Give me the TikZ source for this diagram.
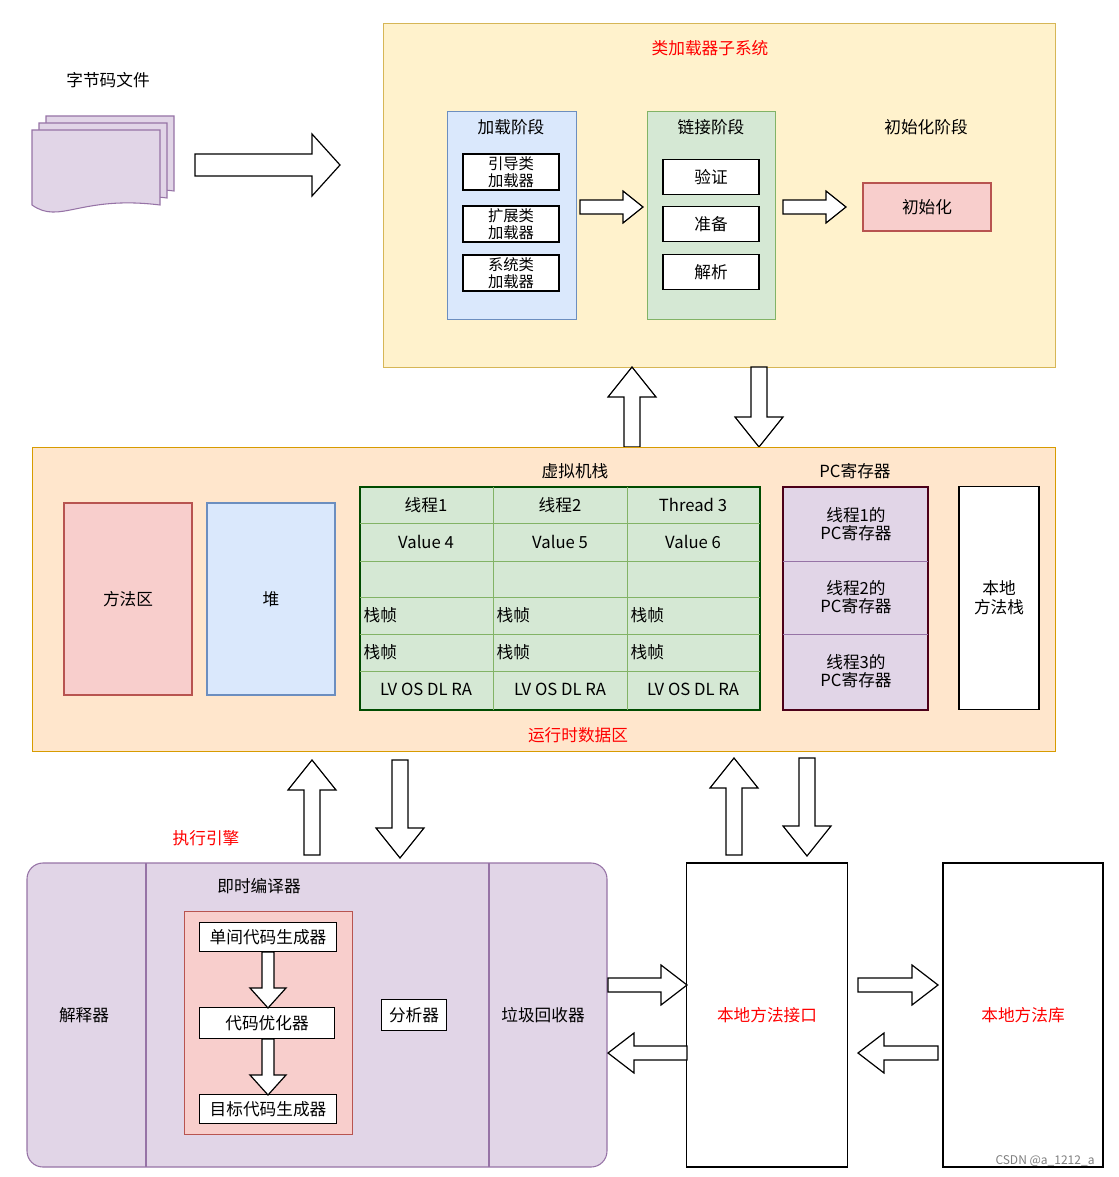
\documentclass[tikz,border=0pt]{standalone}
\usepackage{fontspec}
\setmainfont{Noto Sans CJK SC}
\begin{document}
\begin{tikzpicture}[x=0.75pt,y=-0.75pt,
  every node/.style={font=\fontsize{12.5}{14}\selectfont, align=center, inner sep=1pt},
  box/.style={draw, line width=0.8pt},
  ylw/.style={box, fill={rgb,255:red,255;green,242;blue,204}, draw={rgb,255:red,214;green,182;blue,86}},
  blu/.style={box, fill={rgb,255:red,218;green,232;blue,252}, draw={rgb,255:red,108;green,142;blue,191}},
  grn/.style={box, fill={rgb,255:red,213;green,232;blue,212}, draw={rgb,255:red,130;green,179;blue,102}},
  red/.style={box, fill={rgb,255:red,248;green,206;blue,204}, draw={rgb,255:red,184;green,84;blue,80}},
  org/.style={box, fill={rgb,255:red,255;green,230;blue,204}, draw={rgb,255:red,215;green,155;blue,0}},
  pur/.style={box, fill={rgb,255:red,225;green,213;blue,231}, draw={rgb,255:red,150;green,115;blue,166}},
  wht/.style={box, fill=white, draw=black},
  rtxt/.style={text=red}
]
\newcommand\harrow[7]{% x y angle length shaft headwidth headlen
  \begin{scope}[shift={(#1,#2)},rotate=#3]
  \draw[fill=white, line width=0.9pt] (0,-#5/2) -- (#4-#7,-#5/2) -- (#4-#7,-#6/2) -- (#4,0) -- (#4-#7,#6/2) -- (#4-#7,#5/2) -- (0,#5/2) -- cycle;
  \end{scope}}
\useasboundingbox (0,0) rectangle (1118,1177);
% bytecode
\node (bc) at (108,80) {字节码文件};
\foreach \d in {14,7,0}{
 \draw[pur] (32+\d,130-\d) -- (32+\d,205-\d) .. controls (60+\d,225-\d) and (80+\d,195-\d) .. (160+\d,205-\d) -- (160+\d,130-\d) -- cycle;}
\harrow{195}{165}{0}{145}{22}{62}{28}
% class loader
\node[ylw, minimum width=672*0.75pt, minimum height=344*0.75pt, anchor=north west] (cl) at (383,23) {};
\node[rtxt] at (710,48) {类加载器子系统};
\node[blu, minimum width=129*0.75pt, minimum height=208*0.75pt, anchor=north west] (ld) at (447,111) {};
\node at (511,127) {加载阶段};
\begin{scope}[every node/.style={font=\fontsize{11.5}{12.5}\selectfont, align=center, inner sep=0pt, wht, minimum width=96*0.75pt, minimum height=36*0.75pt}]
\node (l1) at (511,172) {引导类\\加载器};
\node (l2) at (511,224) {扩展类\\加载器};
\node (l3) at (511,273) {系统类\\加载器};
\end{scope}
\harrow{580}{207}{0}{63}{14}{32}{20}
\node[grn, minimum width=128*0.75pt, minimum height=208*0.75pt, anchor=north west] (lk) at (647,111) {};
\node at (711,127) {链接阶段};
\node[wht, minimum width=96*0.75pt, minimum height=35*0.75pt] (v1) at (711,177) {验证};
\node[wht, minimum width=96*0.75pt, minimum height=35*0.75pt] (v2) at (711,224) {准备};
\node[wht, minimum width=96*0.75pt, minimum height=35*0.75pt] (v3) at (711,272) {解析};
\harrow{783}{207}{0}{63}{14}{32}{20}
\node at (926,127) {初始化阶段};
\node[red, minimum width=128*0.75pt, minimum height=48*0.75pt] (init) at (927,207) {初始化};
\harrow{632}{447}{90}{80}{16}{48}{30}
\harrow{759}{367}{-90}{80}{16}{48}{30}
% runtime
\node[org, minimum width=1023*0.75pt, minimum height=304*0.75pt, anchor=north west] (rt) at (32,447) {};
\node[rtxt] at (578,735) {运行时数据区};
\node[red, minimum width=128*0.75pt, minimum height=192*0.75pt] (ma) at (128,599) {方法区};
\node[blu, minimum width=128*0.75pt, minimum height=192*0.75pt] (heap) at (271,599) {堆};
\node at (575,471) {虚拟机栈};
\draw[grn, line width=1.2pt, draw=black!70!green] (360,487) rectangle (760,710);
\foreach \x in {493,627} \draw[draw={rgb,255:red,130;green,179;blue,102}] (\x,487) -- (\x,710);
\foreach \y in {523,561,597,634,671} \draw[draw={rgb,255:red,130;green,179;blue,102}] (360,\y) -- (760,\y);
\foreach \x/\a/\b in {426/线程1/Value 4, 560/线程2/Value 5, 693/Thread 3/Value 6}{
  \node at (\x,505) {\a}; \node at (\x,542) {\b}; \node at (\x,689) {LV OS DL RA};}
\foreach \x in {362,495,629}{
  \node[anchor=west] at (\x,615) {栈帧}; \node[anchor=west] at (\x,652) {栈帧};}
\node at (855,471) {PC寄存器};
\draw[pur, line width=1.2pt, draw=black!60!purple] (783,487) rectangle (928,710);
\draw[draw={rgb,255:red,150;green,115;blue,166}] (783,561) -- (928,561) (783,634) -- (928,634);
\node at (856,524) {线程1的\\PC寄存器};
\node at (856,597) {线程2的\\PC寄存器};
\node at (856,671) {线程3的\\PC寄存器};
\node[wht, minimum width=80*0.75pt, minimum height=223*0.75pt] (nms) at (999,598) {本地\\方法栈};
\harrow{312}{855}{90}{95}{16}{48}{30}
\harrow{400}{760}{-90}{98}{16}{48}{30}
\harrow{734}{855}{90}{97}{16}{48}{30}
\harrow{807}{758}{-90}{98}{16}{48}{30}
% exec engine
\node[rtxt] at (206,838) {执行引擎};
\draw[pur, rounded corners=12pt] (27,863) rectangle (607,1167);
\draw[draw={rgb,255:red,150;green,115;blue,166}, line width=0.8pt] (146,863) -- (146,1167) (489,863) -- (489,1167);
\node at (84,1015) {解释器};
\node at (259,886) {即时编译器};
\node[red, minimum width=168*0.75pt, minimum height=223*0.75pt, anchor=north west] (jit) at (184,911) {};
\node[wht, minimum width=137*0.75pt, minimum height=29*0.75pt] (c1) at (268,937) {单间代码生成器};
\node[wht, minimum width=135*0.75pt, minimum height=31*0.75pt] (c2) at (267,1023) {代码优化器};
\node[wht, minimum width=137*0.75pt, minimum height=29*0.75pt] (c3) at (268,1109) {目标代码生成器};
\harrow{268}{952}{-90}{56}{12}{36}{20}
\harrow{268}{1039}{-90}{56}{12}{36}{20}
\node[wht, minimum width=65*0.75pt, minimum height=31*0.75pt] (an) at (414,1015) {分析器};
\node at (543,1015) {垃圾回收器};
\node[wht, minimum width=161*0.75pt, minimum height=304*0.75pt, text=red] (nmi) at (767,1015) {本地方法接口};
\node[wht, minimum width=160*0.75pt, minimum height=304*0.75pt, text=red] (nml) at (1023,1015) {本地方法库};
\harrow{608}{985}{0}{79}{14}{40}{26}
\harrow{687}{1053}{180}{79}{14}{40}{26}
\harrow{858}{985}{0}{80}{14}{40}{26}
\harrow{938}{1053}{180}{80}{14}{40}{26}
\node[text=gray, font=\fontsize{9}{9}\selectfont] at (1045,1161) {CSDN @a\_1212\_a};
\end{tikzpicture}
\end{document}
